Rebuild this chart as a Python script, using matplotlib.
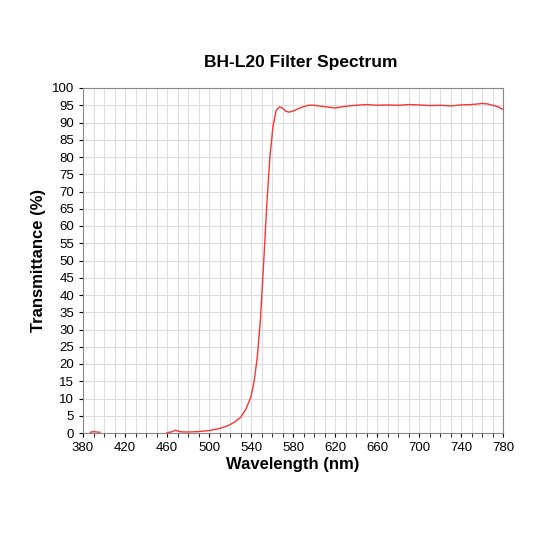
import numpy as np
import matplotlib.pyplot as plt

plt.rcParams['font.family'] = ['Liberation Sans', 'DejaVu Sans']

# first short segment near the short-wave end
wl_a = [387, 390, 393, 396]
tr_a = [0.2, 0.4, 0.3, 0.2]

# main curve
wl_b = [460, 464, 468, 472, 476, 480, 490, 500, 505, 510, 515, 520, 525, 530, 535,
        540, 543, 546, 549, 552, 555, 558, 561, 564, 567, 570, 573, 576, 580,
        585, 590, 595, 600, 610, 620, 630, 640, 650, 660, 670, 680, 690, 700,
        710, 720, 730, 740, 750, 760, 765, 770, 775, 780]
tr_b = [0.1, 0.3, 0.8, 0.4, 0.3, 0.3, 0.4, 0.7, 1.0, 1.3, 1.8, 2.4, 3.3, 4.5, 6.8,
        10.5, 15, 22, 33, 49, 66, 80, 89, 93.5, 94.5, 94.2, 93.3, 93.0, 93.3,
        94.0, 94.6, 95.0, 95.0, 94.6, 94.2, 94.7, 95.0, 95.2, 95.0, 95.1, 95.0, 95.2, 95.1,
        94.9, 95.0, 94.8, 95.1, 95.2, 95.5, 95.4, 95.0, 94.6, 93.8]

fig = plt.figure(figsize=(5.33, 5.33), dpi=100)
ax = fig.add_axes([83 / 533, 1 - 433 / 533, 420 / 533, 345 / 533])
ax.plot(wl_a, tr_a, color='#ff3333', lw=1)
ax.plot(wl_b, tr_b, color='#ff3333', lw=1)

ax.set_xlim(380, 780)
ax.set_ylim(0, 100)
ax.set_xticks(np.arange(380, 781, 40))
ax.set_xticks(np.arange(380, 781, 10), minor=True)
ax.set_yticks(np.arange(0, 101, 5))
ax.grid(True, which='both', color='#dddddd', lw=0.8)
ax.set_axisbelow(True)
ax.tick_params(labelsize=9.5, length=3, which='both')
for s in ax.spines.values():
    s.set_color('#888888')

ax.set_xlabel('Wavelength (nm)', fontsize=12, fontweight='bold', labelpad=2)
ax.set_ylabel('Transmittance (%)', fontsize=12, fontweight='bold')
fig.text(0.565, 1 - 62 / 533, 'BH-L20 Filter Spectrum', ha='center', va='center',
         fontsize=12.5, fontweight='bold')

fig.savefig('out.png', dpi=100)
